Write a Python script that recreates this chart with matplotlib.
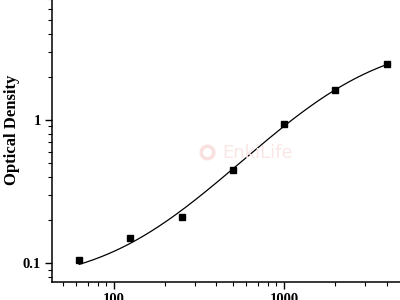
import numpy as np
import matplotlib
matplotlib.use("Agg")
import matplotlib.pyplot as plt
from matplotlib.ticker import LogLocator, NullFormatter, FixedLocator, FixedFormatter

# standard concentrations and measured OD
conc = [62.5, 125, 250, 500, 1000, 2000, 4000]
od = [0.105, 0.150, 0.208, 0.447, 0.93, 1.61, 2.44]

x_ticks = [100, 1000]
x_labels = ["100", "1000"]
y_ticks = [0.1, 1]
y_labels = ["0.1", "1"]


def four_pl(x, p):
    a, b, c, d = p
    return d + (a - d) / (1.0 + (x / c) ** b)


def fit_4pl(x, y, p):
    # small Levenberg-Marquardt, just numpy
    x = np.asarray(x, float)
    y = np.asarray(y, float)
    p = np.asarray(p, float)
    lam = 1e-2
    for _ in range(500):
        r = y - four_pl(x, p)
        J = np.zeros((len(x), 4))
        for k in range(4):
            dp = np.zeros(4)
            dp[k] = 1e-6 * max(abs(p[k]), 1e-3)
            J[:, k] = (four_pl(x, p + dp) - four_pl(x, p)) / dp[k]
        H = J.T @ J
        step = np.linalg.solve(H + lam * np.diag(np.diag(H)), J.T @ r)
        pn = p + step
        if np.sum((y - four_pl(x, pn)) ** 2) < np.sum(r ** 2):
            p = pn
            lam *= 0.5
        else:
            lam *= 4
    return p


params = fit_4pl(conc, od, [0.07, 1.5, 1200, 3.2])
xs = np.logspace(np.log10(conc[0]), np.log10(conc[-1]), 300)

plt.rcParams['font.family'] = ['Liberation Serif', 'DejaVu Serif']

fig = plt.figure(figsize=(4, 3), dpi=100)
ax = fig.add_axes([0.13, 0.06, 0.87, 1.013])

ax.plot(xs, four_pl(xs, params), color='black', lw=0.9)
ax.plot(conc, od, 's', color='black', ms=4.5)

ax.set_xscale('log')
ax.set_yscale('log')
ax.set_xlim(43.2, 4800)
ax.set_ylim(0.0736, 9.8)

ax.xaxis.set_major_locator(FixedLocator(x_ticks))
ax.xaxis.set_major_formatter(FixedFormatter(x_labels))
ax.yaxis.set_major_locator(FixedLocator(y_ticks))
ax.yaxis.set_major_formatter(FixedFormatter(y_labels))
ax.xaxis.set_minor_locator(LogLocator(base=10, subs=np.arange(2, 10)))
ax.yaxis.set_minor_locator(LogLocator(base=10, subs=np.arange(2, 10)))
ax.xaxis.set_minor_formatter(NullFormatter())
ax.yaxis.set_minor_formatter(NullFormatter())

ax.tick_params(which='major', direction='out', length=5, width=1, labelsize=10.5, pad=3)
ax.tick_params(which='minor', direction='out', length=3, width=0.8)
for lab in ax.get_xticklabels() + ax.get_yticklabels():
    lab.set_fontweight('bold')

ax.spines['top'].set_visible(False)
ax.spines['right'].set_visible(False)
ax.spines['left'].set_linewidth(1.1)
ax.spines['bottom'].set_linewidth(1.1)

ax.set_ylabel('Optical Density', fontsize=12, fontweight='bold', labelpad=2)

# faint watermark
ax.text(0.488, 0.425, 'EnkiLife', transform=ax.transAxes, fontsize=13,
        color='#fbe6e6', family='DejaVu Sans', ha='left', va='center')
ax.plot([0.446], [0.428], 'o', transform=ax.transAxes, ms=9, mfc='none',
        mec='#fbe0e0', mew=2.5)

fig.savefig('out.png', dpi=100)
